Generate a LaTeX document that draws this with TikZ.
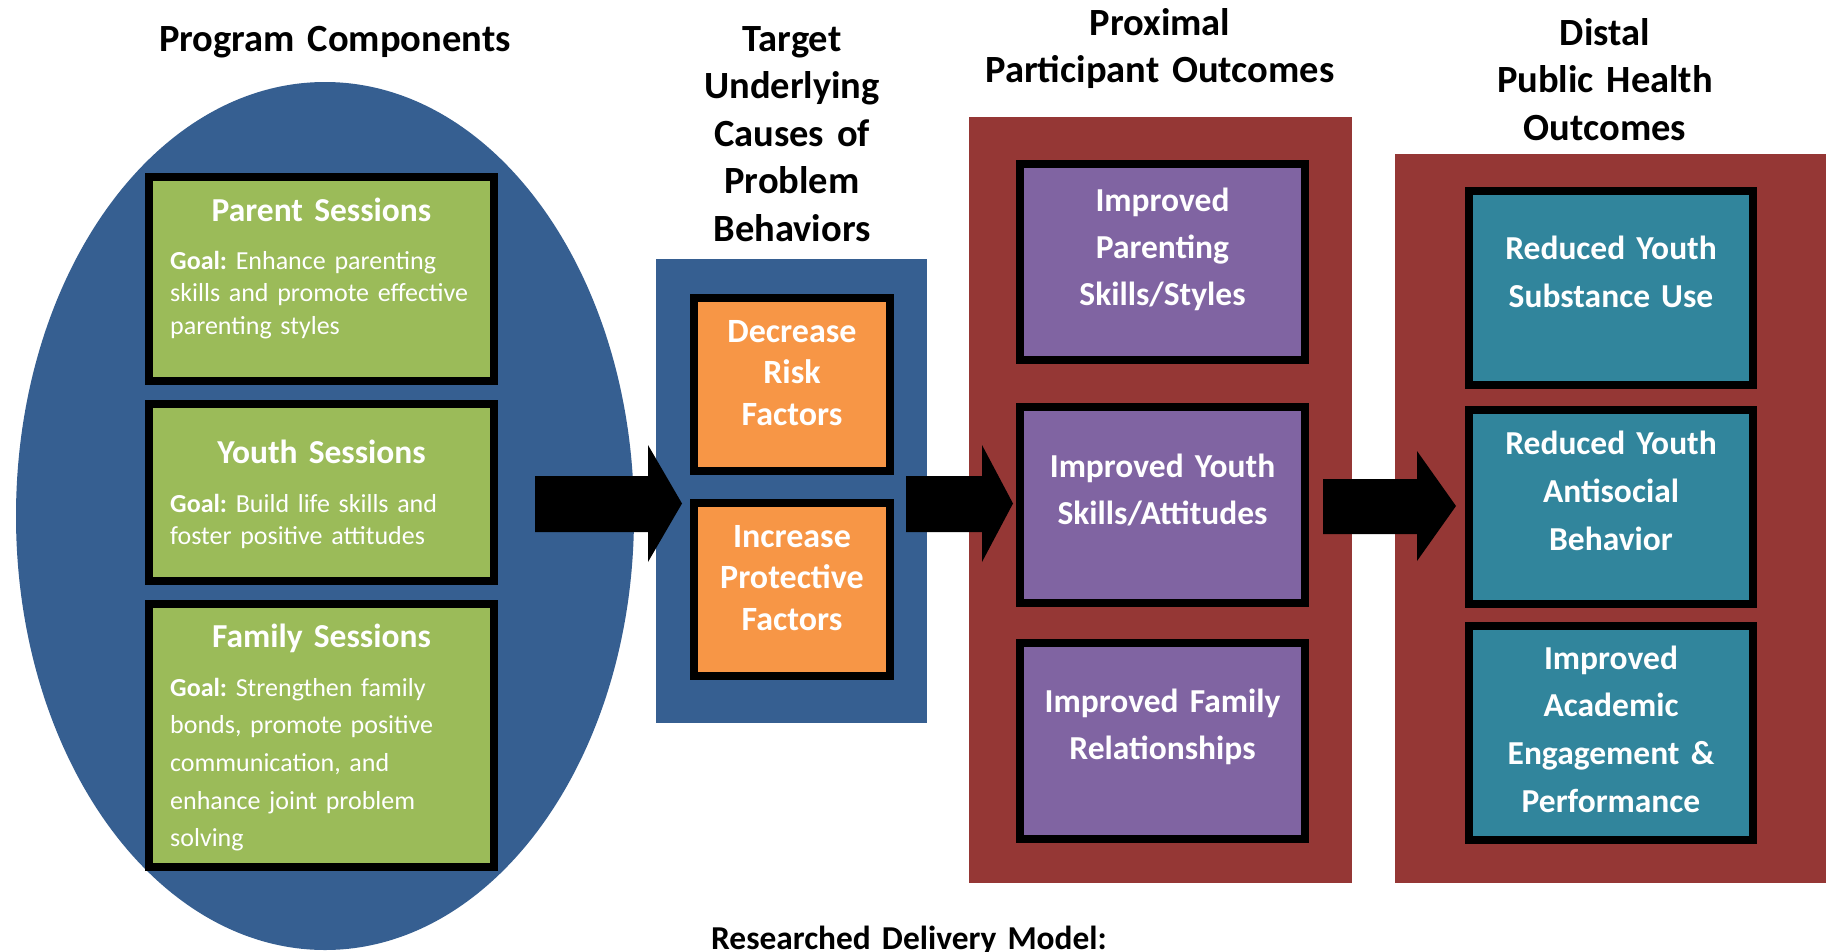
\documentclass[tikz,border=0pt]{standalone}
\usepackage{fontspec}
\setmainfont{Carlito}
\frenchspacing
\usetikzlibrary{shapes.geometric}
\definecolor{cblue}{RGB}{54,95,145}
\definecolor{cgreen}{RGB}{155,187,89}
\definecolor{corange}{RGB}{247,150,70}
\definecolor{cpurple}{RGB}{128,100,162}
\definecolor{cteal}{RGB}{49,133,156}
\definecolor{cred}{RGB}{149,55,53}
\tikzset{
  sbox/.style={rectangle, draw=black, line width=8pt, inner sep=0pt},
  panel/.style={rectangle, inner sep=0pt, draw=none},
  head/.style={font=\bfseries\fontsize{38.5}{47.5}\selectfont, text width=440pt, align=center, inner sep=0pt, anchor=base},
  btxt/.style={text=white, font=\bfseries\fontsize{33.5}{47}\selectfont, text width=290pt, align=center, inner sep=0pt, anchor=base},
  goal/.style={text=white, font=\fontsize{26}{32.5}\selectfont, text width=320pt, align=left, inner sep=0pt, anchor=base west},
  blockarrow/.style={fill=black}
}
\begin{document}
\begin{tikzpicture}[x=1pt,y=-1pt]
\useasboundingbox (0,0) rectangle (1829,951);
\fill[white] (0,0) rectangle (1829,951);

% headings
\node[head] (hPC) at (335,51) {Program Components};
\node[head] (hTU) at (792,51) {Target\\Underlying\\Causes of\\Problem\\Behaviors};
\node[head] (hPO) at (1160,35) {Proximal\\Participant Outcomes};
\node[head] (hDO) at (1605,45) {Distal\\Public Health\\Outcomes};
\node[head, font=\bfseries\fontsize{33.4}{40}\selectfont] (hRD) at (909,949) {Researched Delivery Model:};

% program components
\node[ellipse, fill=cblue, inner sep=0pt, minimum width=618pt, minimum height=868pt] (ell) at (325,516) {};
\node[sbox, fill=cgreen, minimum width=345pt, minimum height=204pt] (gP) at (321.5,279) {};
\node[sbox, fill=cgreen, minimum width=345pt, minimum height=177pt] (gY) at (321.5,492.5) {};
\node[sbox, fill=cgreen, minimum width=345pt, minimum height=263pt] (gF) at (321.5,735.5) {};
\node[btxt] (tP) at (321.5,221) {Parent Sessions};
\node[goal] (oP) at (170,269) {\textbf{Goal:} Enhance parenting\\skills and promote effective\\parenting styles};
\node[btxt] (tY) at (321.5,463) {Youth Sessions};
\node[goal] (oY) at (170,512) {\textbf{Goal:} Build life skills and\\foster positive attitudes};
\node[btxt] (tF) at (321.5,647) {Family Sessions};
\node[goal, font=\fontsize{26}{37.7}\selectfont] (oF) at (170,696) {\textbf{Goal:} Strengthen family\\bonds, promote positive\\communication, and\\enhance joint problem\\solving};

% target causes
\node[panel, fill=cblue, minimum width=271pt, minimum height=464pt] (pT) at (791.5,491) {};
\node[sbox, fill=corange, minimum width=196pt, minimum height=173pt] (oD) at (792,384.5) {};
\node[sbox, fill=corange, minimum width=196pt, minimum height=173pt] (oI) at (792,589.5) {};
\node[btxt, font=\bfseries\fontsize{34}{41.5}\selectfont] (tD) at (792,342) {Decrease\\Risk\\Factors};
\node[btxt, font=\bfseries\fontsize{34}{41.5}\selectfont] (tI) at (792,547) {Increase\\Protective\\Factors};

% proximal outcomes
\node[panel, fill=cred, minimum width=383pt, minimum height=766pt] (pP) at (1160.5,500) {};
\node[sbox, fill=cpurple, minimum width=285pt, minimum height=196pt] (u1) at (1162.5,262) {};
\node[sbox, fill=cpurple, minimum width=285pt, minimum height=196pt] (u2) at (1162.5,505) {};
\node[sbox, fill=cpurple, minimum width=285pt, minimum height=196pt] (u3) at (1162.5,741) {};
\node[btxt] (tu1) at (1162.5,211) {Improved\\Parenting\\Skills/Styles};
\node[btxt] (tu2) at (1162.5,477) {Improved Youth\\Skills/Attitudes};
\node[btxt] (tu3) at (1162.5,712) {Improved Family\\Relationships};

% distal outcomes
\node[panel, fill=cred, minimum width=431pt, minimum height=729pt] (pD) at (1610.5,518.5) {};
\node[sbox, fill=cteal, minimum width=284pt, minimum height=194pt] (d1) at (1611,288) {};
\node[sbox, fill=cteal, minimum width=284pt, minimum height=194pt] (d2) at (1611,507) {};
\node[sbox, fill=cteal, minimum width=284pt, minimum height=214pt] (d3) at (1611,733) {};
\node[btxt, font=\bfseries\fontsize{33.5}{48}\selectfont] (td1) at (1611,259) {Reduced Youth\\Substance Use};
\node[btxt, font=\bfseries\fontsize{33.5}{48}\selectfont] (td2) at (1611,454) {Reduced Youth\\Antisocial\\Behavior};
\node[btxt, font=\bfseries\fontsize{33.5}{47.7}\selectfont] (td3) at (1611,669) {Improved\\Academic\\Engagement \&\\Performance};

% block arrows
\fill[blockarrow] (535,476) -- (648,476) -- (648,445) -- (682,503.5) -- (648,562) -- (648,532) -- (535,532) -- cycle;
\fill[blockarrow] (906,476) -- (982,476) -- (982,445) -- (1013,503.5) -- (982,562) -- (982,532) -- (906,532) -- cycle;
\fill[blockarrow] (1323,479) -- (1417,479) -- (1417,451) -- (1456,506) -- (1417,561) -- (1417,534) -- (1323,534) -- cycle;
\end{tikzpicture}
\end{document}
